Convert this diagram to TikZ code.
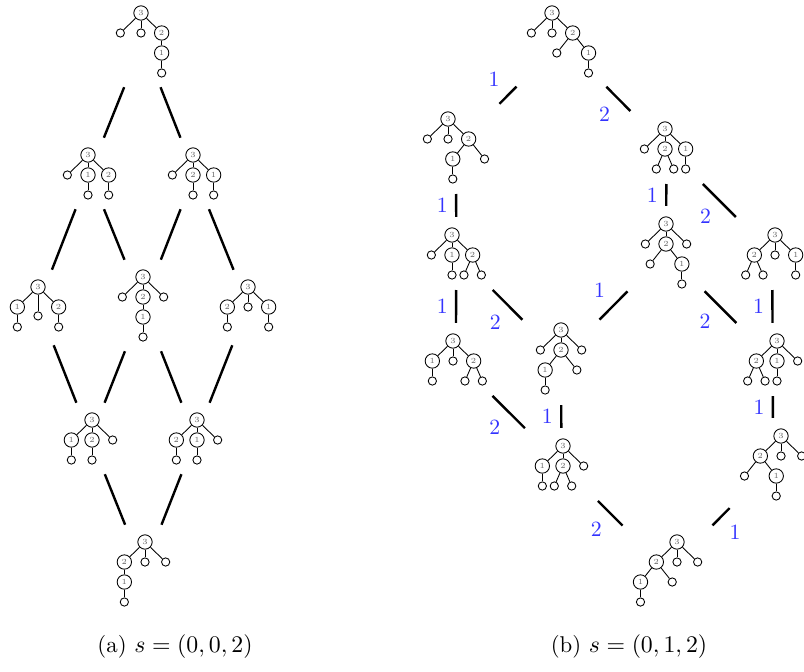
\documentclass[tikz,border=0pt]{standalone}
\usepackage{tikz}
\usetikzlibrary{positioning,calc,fit}

\begin{document}
\begin{tikzpicture}[
    x=0.46pt, y=-0.46pt,
    lab/.style={circle, draw, line width=0.4pt, minimum size=6.6pt, inner sep=0pt, text=black!60, font=\fontsize{3.6}{4}\selectfont},
    leaf/.style={circle, draw, line width=0.4pt, minimum size=3.8pt, inner sep=0pt},
    level distance=9.2pt,
    sibling distance=9.5pt,
    level 2/.style={sibling distance=8pt},
    wide/.style={sibling distance=14.6pt},
    low/.style={level distance=13.3pt},
    edge from parent/.style={draw, line width=0.4pt},
    link/.style={line width=1.1pt, shorten <=5pt, shorten >=5pt},
    diag/.style={shorten <=7pt, shorten >=7pt},
    num/.style={text=blue!80, font=\normalsize},
    caption/.style={font=\fontsize{10.5}{12}\selectfont}
]

    % --- (a): s = (0,0,2) ---

    % Row 1
    \begin{scope}[local bounding box=a1]
    \node[lab] (a1r) at (141,13) {3}
        child {node[leaf] {}}
        child {node[leaf] {}}
        child {node[lab] {2} child {node[lab] {1} child {node[leaf] {}}}};
    \end{scope}

    % Row 2
    \begin{scope}[local bounding box=a2]
    \node[lab] (a2r) at (88,155) {3}
        child {node[leaf] {}}
        child {node[lab] {1} child {node[leaf] {}}}
        child {node[lab] {2} child {node[leaf] {}}};
    \end{scope}
    \begin{scope}[local bounding box=a3]
    \node[lab] (a3r) at (193,155) {3}
        child {node[leaf] {}}
        child {node[lab] {2} child {node[leaf] {}}}
        child {node[lab] {1} child {node[leaf] {}}};
    \end{scope}

    % Row 3
    \begin{scope}[local bounding box=a4]
    \node[lab] (a4r) at (38,287) {3}
        child {node[lab] {1} child {node[leaf] {}}}
        child[low] {node[leaf] {}}
        child {node[lab] {2} child {node[leaf] {}}};
    \end{scope}
    \begin{scope}[local bounding box=a5]
    \node[lab] (a5r) at (143,277) {3}
        child {node[leaf] {}}
        child {node[lab] {2} child {node[lab] {1} child {node[leaf] {}}}}
        child {node[leaf] {}};
    \end{scope}
    \begin{scope}[local bounding box=a6]
    \node[lab] (a6r) at (248,287) {3}
        child {node[lab] {2} child {node[leaf] {}}}
        child {node[leaf] {}}
        child {node[lab] {1} child {node[leaf] {}}};
    \end{scope}

    % Row 4
    \begin{scope}[local bounding box=a7]
    \node[lab] (a7r) at (92,420) {3}
        child {node[lab] {1} child {node[leaf] {}}}
        child {node[lab] {2} child {node[leaf] {}}}
        child {node[leaf] {}};
    \end{scope}
    \begin{scope}[local bounding box=a8]
    \node[lab] (a8r) at (197,420) {3}
        child {node[lab] {2} child {node[leaf] {}}}
        child {node[lab] {1} child {node[leaf] {}}}
        child {node[leaf] {}};
    \end{scope}

    % Row 5
    \begin{scope}[local bounding box=a9]
    \node[lab] (a9r) at (145,542) {3}
        child {node[lab] {2} child {node[lab] {1} child {node[leaf] {}}}}
        child {node[leaf] {}}
        child {node[leaf] {}};
    \end{scope}

    \draw[link] (a1) -- (a2);
    \draw[link] (a1) -- (a3);
    \draw[link] (a2) -- (a4);
    \draw[link] (a2) -- (a5);
    \draw[link] (a3) -- (a5);
    \draw[link] (a3) -- (a6);
    \draw[link, shorten <=7pt] (a4) -- (a7);
    \draw[link] (a5) -- (a7);
    \draw[link] (a5) -- (a8);
    \draw[link, shorten <=7pt] (a6) -- (a8);
    \draw[link] (a7) -- (a9);
    \draw[link] (a8) -- (a9);

    % --- (b): s = (0,1,2) ---

    \begin{scope}[local bounding box=b1]
    \node[lab] (b1r) at (552,13) {3}
        child {node[leaf] {}}
        child {node[leaf] {}}
        child {node[lab] {2}
            child[wide] {node[leaf] {}}
            child[wide] {node[lab] {1} child {node[leaf] {}}}};
    \end{scope}
    \begin{scope}[local bounding box=b2]
    \node[lab] (b2r) at (448,119) {3}
        child {node[leaf] {}}
        child {node[leaf] {}}
        child {node[lab] {2}
            child[wide] {node[lab] {1} child {node[leaf] {}}}
            child[wide] {node[leaf] {}}};
    \end{scope}
    \begin{scope}[local bounding box=b3]
    \node[lab] (b3r) at (452,235) {3}
        child {node[leaf] {}}
        child {node[lab] {1} child {node[leaf] {}}}
        child {node[lab] {2} child {node[leaf] {}} child {node[leaf] {}}};
    \end{scope}
    \begin{scope}[local bounding box=b4]
    \node[lab] (b4r) at (453,341) {3}
        child {node[lab] {1} child {node[leaf] {}}}
        child {node[leaf] {}}
        child {node[lab] {2} child {node[leaf] {}} child {node[leaf] {}}};
    \end{scope}
    \begin{scope}[local bounding box=b5]
    \node[lab] (b5r) at (561,330) {3}
        child {node[leaf] {}}
        child {node[lab] {2}
            child[wide] {node[lab] {1} child {node[leaf] {}}}
            child[wide] {node[leaf] {}}}
        child {node[leaf] {}};
    \end{scope}
    \begin{scope}[local bounding box=b6]
    \node[lab] (b6r) at (563,446) {3}
        child {node[lab] {1} child {node[leaf] {}}}
        child {node[lab] {2} child {node[leaf] {}} child {node[leaf] {}}}
        child {node[leaf] {}};
    \end{scope}
    \begin{scope}[local bounding box=b7]
    \node[lab] (b7r) at (677,542) {3}
        child {node[lab] {2}
            child[wide] {node[lab] {1} child {node[leaf] {}}}
            child[wide] {node[leaf] {}}}
        child {node[leaf] {}}
        child {node[leaf] {}};
    \end{scope}
    \begin{scope}[local bounding box=b8]
    \node[lab] (b8r) at (665,129) {3}
        child {node[leaf] {}}
        child {node[lab] {2} child {node[leaf] {}} child {node[leaf] {}}}
        child {node[lab] {1} child {node[leaf] {}}};
    \end{scope}
    \begin{scope}[local bounding box=b9]
    \node[lab] (b9r) at (666,224) {3}
        child {node[leaf] {}}
        child {node[lab] {2}
            child[wide] {node[leaf] {}}
            child[wide] {node[lab] {1} child {node[leaf] {}}}}
        child {node[leaf] {}};
    \end{scope}
    \begin{scope}[local bounding box=b10]
    \node[lab] (b10r) at (775,235) {3}
        child {node[lab] {2} child {node[leaf] {}} child {node[leaf] {}}}
        child {node[leaf] {}}
        child {node[lab] {1} child {node[leaf] {}}};
    \end{scope}
    \begin{scope}[local bounding box=b11]
    \node[lab] (b11r) at (777,341) {3}
        child {node[lab] {2} child {node[leaf] {}} child {node[leaf] {}}}
        child {node[lab] {1} child {node[leaf] {}}}
        child {node[leaf] {}};
    \end{scope}
    \begin{scope}[local bounding box=b12]
    \node[lab] (b12r) at (781,436) {3}
        child {node[lab] {2}
            child[wide] {node[leaf] {}}
            child[wide] {node[lab] {1} child {node[leaf] {}}}}
        child {node[leaf] {}}
        child {node[leaf] {}};
    \end{scope}

    \draw[link, diag] (b1) -- node[num, above left] {1} (b2);
    \draw[link, diag] (b1) -- node[num, below left] {2} (b8);
    \draw[link] (b2) -- node[num, left] {1} (b3);
    \draw[link] (b3) -- node[num, left] {1} (b4);
    \draw[link, diag, shorten >=9pt] (b3) -- node[num, below left] {2} (b5);
    \draw[link, diag] (b4) -- node[num, below left] {2} (b6);
    \draw[link] (b5) -- node[num, left] {1} (b6);
    \draw[link, diag] (b6) -- node[num, below left] {2} (b7);
    \draw[link] (b8) -- node[num, left] {1} (b9);
    \draw[link, diag] (b8) -- node[num, below left] {2} (b10);
    \draw[link, diag, shorten <=9pt, shorten >=9pt] (b9) -- node[num, above left] {1} (b5);
    \draw[link, diag, shorten <=9pt] (b9) -- node[num, below left] {2} (b11);
    \draw[link] (b10) -- node[num, left] {1} (b11);
    \draw[link] (b11) -- node[num, left] {1} (b12);
    \draw[link, diag] (b12) -- node[num, below right] {1} (b7);

    % Captions
    \node[caption] (capa) at (175,647) {(a) $s=(0,0,2)$};
    \node[caption] (capb) at (629,647) {(b) $s=(0,1,2)$};

    \pgfresetboundingbox
    \useasboundingbox (0,0) rectangle (804,671);
\end{tikzpicture}
\end{document}
